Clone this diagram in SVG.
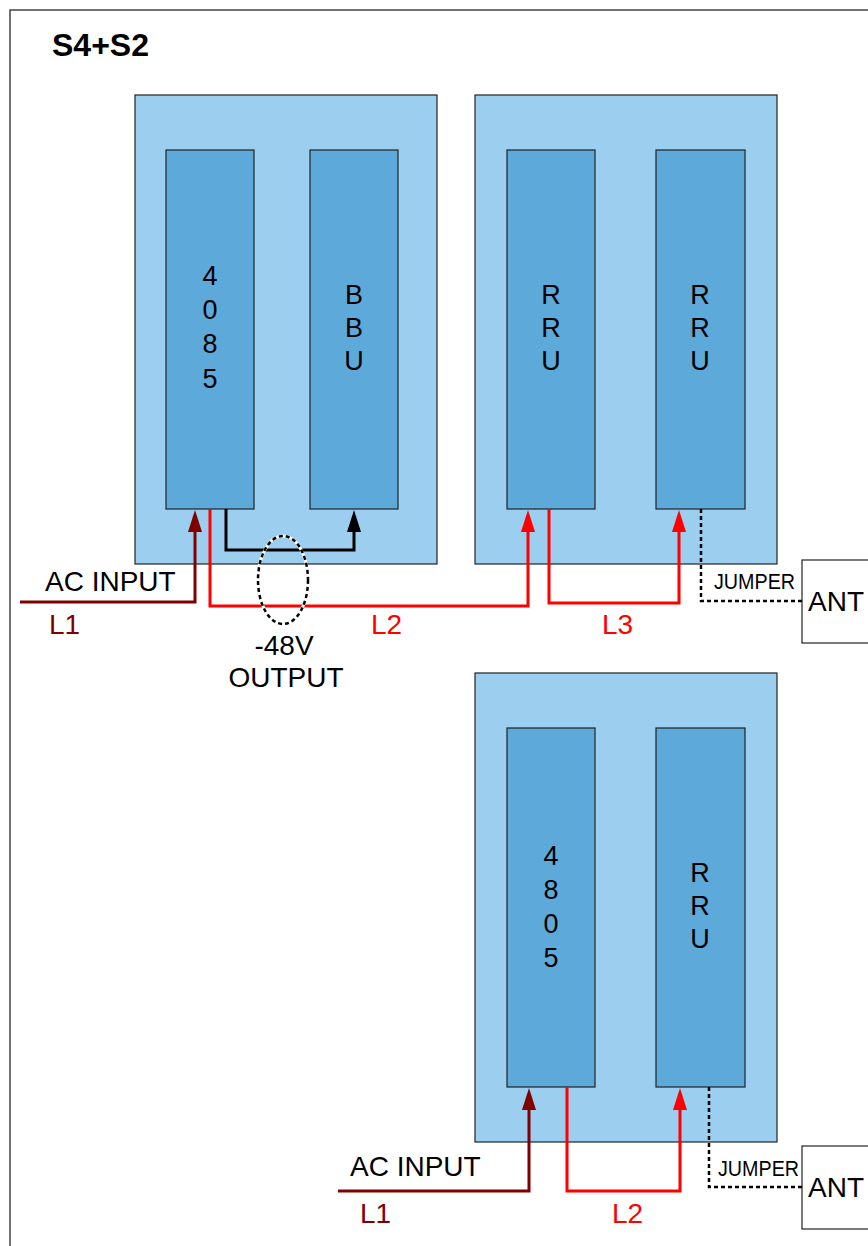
<svg xmlns="http://www.w3.org/2000/svg" width="868" height="1246" viewBox="0 0 868 1246">
<defs>
<style>
.cab{fill:#9BCEEF;stroke:#222;stroke-width:1.2}
.mod{fill:#5DA9DA;stroke:#222;stroke-width:1.2}
.t{font-family:"Liberation Sans",Arial,sans-serif;fill:#000}
.vt{font-size:27px;text-anchor:middle}
.lb{font-size:28px}
.dr{stroke:#800000;stroke-width:3;fill:none}
.rd{stroke:#FF0000;stroke-width:3;fill:none}
.bk{stroke:#000;stroke-width:3;fill:none}
.dash{stroke:#000;stroke-width:2.5;fill:none;stroke-dasharray:4,3}
</style>
</defs>
<rect width="868" height="1246" fill="#fff"/>
<path d="M10,1246 V10 H868" fill="none" stroke="#444" stroke-width="1.5"/>
<text class="t" x="52" y="56" font-size="32" font-weight="bold">S4+S2</text>

<g id="cabinet1">
<rect class="cab" x="135" y="95" width="302" height="469"/>
</g>
<g id="m4085">
<rect class="mod" x="166" y="150" width="88" height="359"/>
<text class="t vt"><tspan x="210" y="285">4</tspan><tspan x="210" y="319">0</tspan><tspan x="210" y="353">8</tspan><tspan x="210" y="388">5</tspan></text>
</g>
<g id="bbu">
<rect class="mod" x="310" y="150" width="88" height="359"/>
<text class="t vt"><tspan x="354" y="304">B</tspan><tspan x="354" y="337">B</tspan><tspan x="354" y="370">U</tspan></text>
</g>
<g id="cabinet2">
<rect class="cab" x="475" y="95" width="302" height="469"/>
</g>
<g id="rru1">
<rect class="mod" x="507" y="150" width="88" height="359"/>
<text class="t vt"><tspan x="551" y="304">R</tspan><tspan x="551" y="337">R</tspan><tspan x="551" y="370">U</tspan></text>
</g>
<g id="rru2">
<rect class="mod" x="656" y="150" width="89" height="359"/>
<text class="t vt"><tspan x="700" y="304">R</tspan><tspan x="700" y="337">R</tspan><tspan x="700" y="370">U</tspan></text>
</g>
<g id="ant1">
<rect x="802" y="560" width="80" height="83" fill="#fff" stroke="#222" stroke-width="1.2"/>
<text class="t lb" x="808" y="611">ANT</text>
</g>

<g id="cabinet3">
<rect class="cab" x="475" y="673" width="302" height="469"/>
</g>
<g id="m4805">
<rect class="mod" x="507" y="728" width="88" height="359"/>
<text class="t vt"><tspan x="551" y="865">4</tspan><tspan x="551" y="899">8</tspan><tspan x="551" y="933">0</tspan><tspan x="551" y="967">5</tspan></text>
</g>
<g id="rru3">
<rect class="mod" x="656" y="728" width="89" height="359"/>
<text class="t vt"><tspan x="700" y="882">R</tspan><tspan x="700" y="915">R</tspan><tspan x="700" y="948">U</tspan></text>
</g>
<g id="ant2">
<rect x="802" y="1146" width="80" height="83" fill="#fff" stroke="#222" stroke-width="1.2"/>
<text class="t lb" x="808" y="1197">ANT</text>
</g>

<g id="connectors">
<path class="dr" d="M20,602 H195 V530"/>
<path d="M195,510 L202,532 L188,532 Z" fill="#800000"/>
<path class="rd" d="M210,509 V606 H528 V530"/>
<path d="M528,510 L535,532 L521,532 Z" fill="#FF0000"/>
<path class="rd" d="M549,509 V603 H679 V530"/>
<path d="M679,510 L686,532 L672,532 Z" fill="#FF0000"/>
<path class="bk" d="M226,509 V550 H354 V530"/>
<path d="M354,510 L361,532 L347,532 Z" fill="#000"/>
<ellipse cx="283" cy="580" rx="25" ry="44" fill="none" stroke="#fff" stroke-width="3"/>
<ellipse cx="283" cy="580" rx="25" ry="44" class="dash"/>
<path class="dash" d="M701,509 V601 H803"/>

<path class="dr" d="M338,1191 H529 V1108"/>
<path d="M529,1088 L536,1110 L522,1110 Z" fill="#800000"/>
<path class="rd" d="M567,1087 V1191 H680 V1108"/>
<path d="M680,1088 L687,1110 L673,1110 Z" fill="#FF0000"/>
<path class="dash" d="M709,1087 V1187 H803"/>
</g>

<g id="labels">
<text class="t lb" x="45" y="591">AC INPUT</text>
<text class="t lb" x="49" y="634" style="fill:#800000">L1</text>
<text class="t lb" x="371" y="634" style="fill:#FF0000">L2</text>
<text class="t lb" x="602" y="634" style="fill:#FF0000">L3</text>
<text class="t lb" x="284" y="655" text-anchor="middle">-48V</text>
<text class="t lb" x="286" y="687" text-anchor="middle">OUTPUT</text>
<text class="t" x="714" y="589" font-size="22" textLength="81" lengthAdjust="spacingAndGlyphs">JUMPER</text>
<text class="t lb" x="350" y="1176">AC INPUT</text>
<text class="t lb" x="360" y="1223" style="fill:#800000">L1</text>
<text class="t lb" x="612" y="1223" style="fill:#FF0000">L2</text>
<text class="t" x="718" y="1176" font-size="22" textLength="81" lengthAdjust="spacingAndGlyphs">JUMPER</text>
</g>
</svg>
